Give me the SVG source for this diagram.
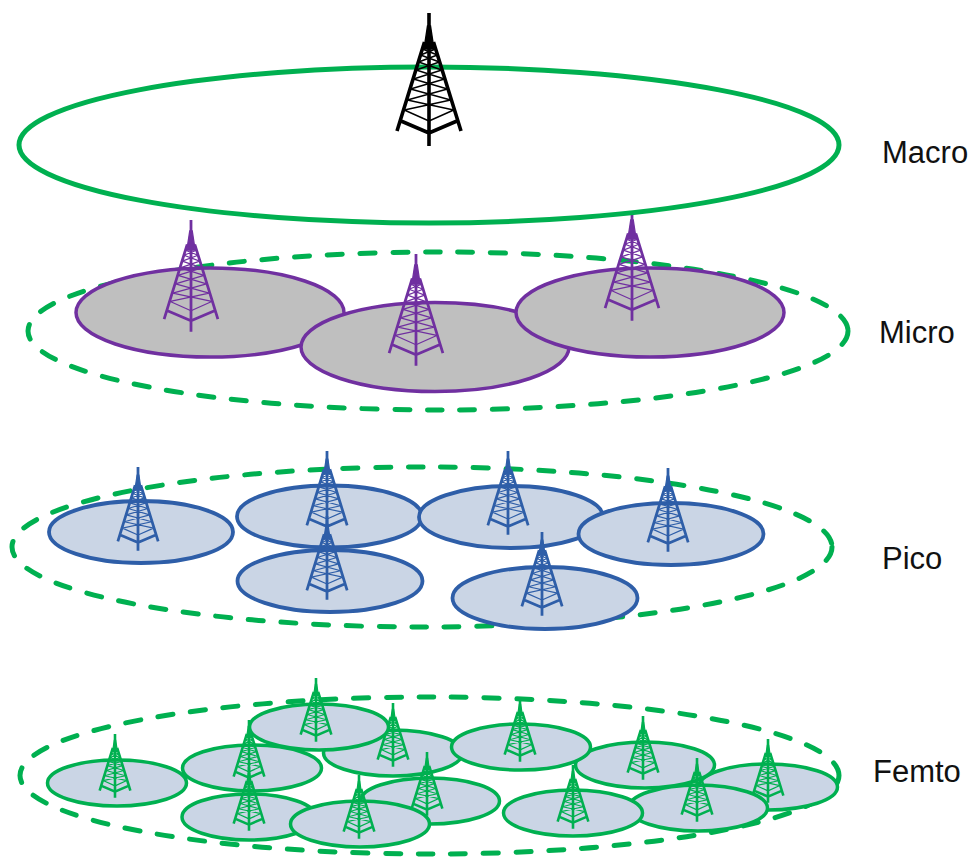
<svg xmlns="http://www.w3.org/2000/svg" width="974" height="857" viewBox="0 0 974 857">
<style>
.dash{fill:none;stroke:#00b050;stroke-width:5;stroke-dasharray:15 17.7;stroke-linecap:round}
.macro{fill:none;stroke:#00b050;stroke-width:5}
.mi{fill:#bfbfbf;stroke:#7030a0;stroke-width:3.5}
.pi{fill:#cad5e5;stroke:#2e5ea8;stroke-width:3.8}
.fe{fill:#cad5e5;stroke:#00b050;stroke-width:3.5}
.tb{color:#000;stroke:#000;--leg:3.6;--lat:1.4}
.tm{color:#7030a0;stroke:#7030a0;--leg:3.3;--lat:1.5}
.tp{color:#2e5ea8;stroke:#2e5ea8;--leg:4.4;--lat:1.8}
.tf{color:#00b050;stroke:#00b050;--leg:5.4;--lat:2.5}
.leg{fill:none;stroke-width:var(--leg)}
.lat{fill:none;stroke-width:var(--lat)}
.hub{fill:currentColor;stroke-width:var(--lat)}
text{font-family:"Liberation Sans",Arial,sans-serif;font-size:31px;fill:#111}
</style>
<defs>
<g id="tower">
<path class="leg" d="M0 0V133M-4.500 29L-32 118M4.500 29L32 118M-28 108L0 120L28 108"/>
<polygon class="hub" points="-1.500,13 1.500,13 5,36 -5,36"/>
<path class="lat" d="M-6.600 36L8.400 42M6.600 36L-8.400 42M-8.400 42L10.400 49M8.400 42L-10.400 49M-10.400 49L12.800 57M10.400 49L-12.800 57M-12.800 57L15.500 66M12.800 57L-15.500 66M-15.500 66L18.500 76M15.500 66L-18.500 76M-18.500 76L21.700 87M18.500 76L-21.700 87M-21.700 87L24.700 97M21.700 87L-24.700 97M-24.700 97L0 108M24.700 97L0 108"/>
</g>
<clipPath id="below-macro"><rect x="560" y="214" width="140" height="120"/></clipPath>
</defs>
<g id="connectors">
<ellipse class="dash" cx="438" cy="331" rx="410" ry="79"/>
<ellipse class="dash" cx="422" cy="547" rx="410" ry="80"/>
<ellipse class="dash" cx="429.500" cy="775.500" rx="409.500" ry="78.500"/>
</g>
<g id="micro-1"><ellipse class="mi" cx="210" cy="312.500" rx="134" ry="44.500"/><use href="#tower" class="tm" transform="translate(191,220) scale(.84)"/></g>
<g id="micro-2"><ellipse class="mi" cx="435" cy="347" rx="134" ry="44.500"/><use href="#tower" class="tm" transform="translate(416,254) scale(.84)"/></g>
<g id="micro-3"><ellipse class="mi" cx="650" cy="312.500" rx="134" ry="44.500"/><g clip-path="url(#below-macro)"><use href="#tower" class="tm" transform="translate(632,209) scale(.84)"/></g></g>
<g id="macro"><ellipse class="macro" cx="429" cy="145" rx="410" ry="78"/><use href="#tower" class="tb" transform="translate(429,13)"/></g>
<g id="pico-1"><ellipse class="pi" cx="141" cy="532" rx="92" ry="31"/><use href="#tower" class="tp" transform="translate(138,467) scale(.63)"/></g>
<g id="pico-3"><ellipse class="pi" cx="330" cy="581" rx="92.500" ry="31"/></g>
<g id="pico-2"><ellipse class="pi" cx="329.500" cy="516.500" rx="92.500" ry="31"/><use href="#tower" class="tp" transform="translate(327,451) scale(.63)"/></g>
<g id="pico-3-tower"><use href="#tower" class="tp" transform="translate(327,516) scale(.63)"/></g>
<g id="pico-6"><ellipse class="pi" cx="545" cy="598" rx="92.500" ry="31"/></g>
<g id="pico-4"><ellipse class="pi" cx="511" cy="517" rx="92" ry="31"/><use href="#tower" class="tp" transform="translate(508,451) scale(.63)"/></g>
<g id="pico-5"><ellipse class="pi" cx="671" cy="534" rx="92.500" ry="31"/><use href="#tower" class="tp" transform="translate(668,468) scale(.63)"/></g>
<g id="pico-6-tower"><use href="#tower" class="tp" transform="translate(542,532) scale(.63)"/></g>
<g id="femto-12"><ellipse class="fe" cx="768" cy="787" rx="69.500" ry="23"/><use href="#tower" class="tf" transform="translate(768,739) scale(.48)"/></g>
<g id="femto-9"><ellipse class="fe" cx="645" cy="765" rx="69.500" ry="23"/><use href="#tower" class="tf" transform="translate(643,716) scale(.48)"/></g>
<g id="femto-11"><ellipse class="fe" cx="698" cy="808" rx="69.500" ry="23"/><use href="#tower" class="tf" transform="translate(697,758) scale(.48)"/></g>
<g id="femto-10"><ellipse class="fe" cx="573" cy="813" rx="69.500" ry="23"/><use href="#tower" class="tf" transform="translate(573,765) scale(.48)"/></g>
<g id="femto-5"><ellipse class="fe" cx="393" cy="753" rx="69.500" ry="23"/><use href="#tower" class="tf" transform="translate(393,703) scale(.48)"/></g>
<g id="femto-8"><ellipse class="fe" cx="521" cy="747" rx="69.500" ry="23"/><use href="#tower" class="tf" transform="translate(520,698) scale(.48)"/></g>
<g id="femto-7"><ellipse class="fe" cx="430" cy="801" rx="69.500" ry="23"/><use href="#tower" class="tf" transform="translate(427,752) scale(.48)"/></g>
<g id="femto-1"><ellipse class="fe" cx="117" cy="783" rx="69.500" ry="23"/><use href="#tower" class="tf" transform="translate(115,734) scale(.48)"/></g>
<g id="femto-3"><ellipse class="fe" cx="249" cy="817" rx="67" ry="23"/></g>
<g id="femto-2"><ellipse class="fe" cx="252" cy="768" rx="69.500" ry="23"/><use href="#tower" class="tf" transform="translate(249,720) scale(.48)"/></g>
<g id="femto-3-tower"><use href="#tower" class="tf" transform="translate(249,767) scale(.48)"/></g>
<g id="femto-4"><ellipse class="fe" cx="319" cy="727" rx="69.500" ry="23"/><use href="#tower" class="tf" transform="translate(316,678) scale(.48)"/></g>
<g id="femto-6"><ellipse class="fe" cx="360" cy="824" rx="69.500" ry="23"/><use href="#tower" class="tf" transform="translate(359,775) scale(.48)"/></g>
<g id="labels">
<text x="882" y="163">Macro</text>
<text x="879" y="343">Micro</text>
<text x="882" y="569">Pico</text>
<text x="873" y="782">Femto</text>
</g>
</svg>
